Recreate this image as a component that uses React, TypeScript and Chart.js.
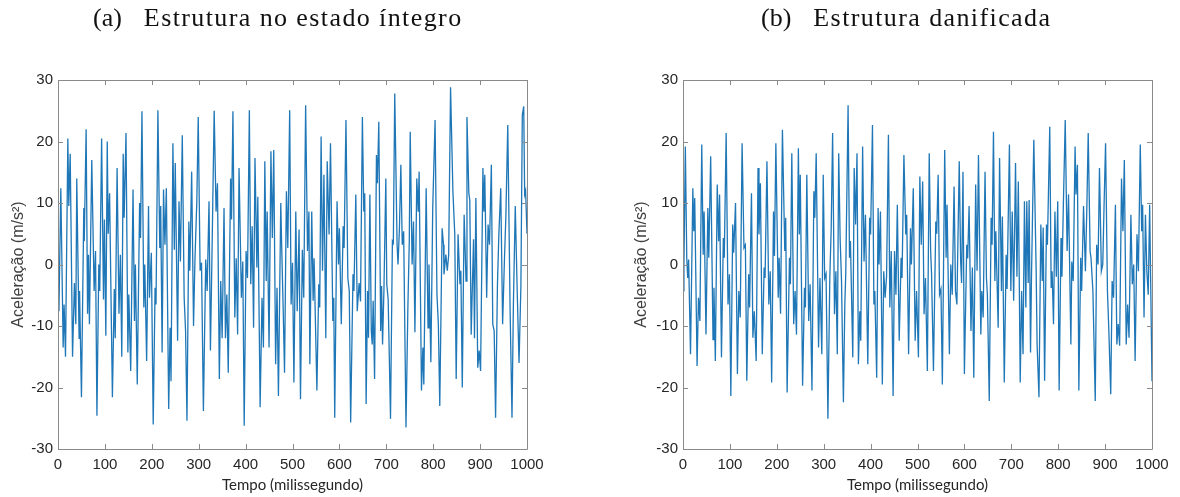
import React, { useEffect, useRef } from "react";
import { Chart, registerables } from "chart.js";

Chart.register(...registerables);

// ---- Data: (a) Estrutura no estado íntegro ----
const timeA = [
  0, 2, 6, 11, 13, 16, 21, 23, 26, 31, 35, 38, 40, 45, 46, 50, 55, 56, 60, 63, 65, 67, 72, 77, 80, 83, 87, 89, 93, 97,
  99, 102, 105, 107, 110, 116, 120, 122, 126, 130, 133, 136, 139, 141, 145, 149, 151, 155, 160, 163, 165, 169, 174, 176,
  179, 183, 185, 189, 193, 195, 199, 203, 207, 209, 213, 217, 219, 222, 225, 228, 231, 236, 239, 241, 245, 248, 250, 255,
  258, 261, 265, 269, 272, 275, 279, 281, 285, 289, 292, 296, 299, 303, 306, 310, 315, 318, 322, 325, 328, 333, 337, 340,
  344, 347, 350, 354, 357, 360, 363, 368, 370, 373, 377, 380, 383, 386, 391, 394, 397, 401, 404, 408, 411, 414, 417, 420,
  424, 426, 431, 435, 438, 441, 444, 446, 450, 454, 457, 460, 464, 467, 470, 475, 477, 480, 483, 487, 490, 494, 497, 500,
  503, 507, 510, 514, 517, 521, 524, 528, 532, 535, 537, 541, 544, 546, 552, 556, 558, 561, 564, 567, 571, 574, 578, 581,
  586, 588, 590, 595, 598, 600, 604, 608, 610, 614, 618, 621, 624, 629, 631, 635, 638, 642, 645, 649, 652, 654, 657, 660,
  662, 665, 668, 670, 672, 675, 679, 681, 684, 688, 690, 692, 695, 699, 701, 704, 709, 713, 715, 718, 723, 725, 728, 731,
  734, 737, 742, 746, 749, 751, 755, 758, 761, 765, 768, 770, 775, 778, 780, 785, 789, 791, 795, 799, 804, 808, 811, 814,
  819, 822, 823, 827, 830, 833, 837, 842, 846, 849, 853, 857, 859, 862, 866, 870, 872, 876, 878, 881, 886, 888, 891, 895,
  898, 901, 906, 908, 910, 914, 917, 920, 924, 927, 930, 933, 937, 940, 944, 948, 952, 955, 959, 964, 968, 971, 975, 979,
  983, 987, 990, 993, 995, 997, 1000,
];
const accelA = [
  -2, -7.6, 12.4, -13.5, -6.5, -15, 20.5, 9.5, 18, -15, -3, -9.7, 14, -12, -4.3, -21.6, 9.2, 3.8, 22, -8, 1.6, -9.7, 17,
  -4.3, 2.2, -24.6, 0, -4.3, 20.5, -5.7, 7.3, -11.6, 20, 5, 11.6, -21.6, -4, -12, 15.7, -8, 1.6, -15, 18, 7.6, 21.4, -14.3,
  -4.9, -17.3, 12.2, -9.2, 0, -19.5, 10, 4.3, 24.9, -7, 0, -15.7, 9.5, -5.4, 1.9, -26, -3.8, -6.5, 25.1, 2.7, 9.5, -14.3,
  12.2, 3.2, 12.4, -23.5, -10.3, -19, 19.7, 2.4, 16.5, -12.4, 10.3, 0.5, 21, -5.4, -10.8, -25.4, 7, -1, 15.1, -10, 0.8,
  10.3, 24, -1, 0.3, -23.8, 0.8, -4.3, 10.3, -14, 0, 25, 8.6, 13.2, -18.6, -2.7, -12, 9.2, -12, -4.9, -17.6, 14, 7.3, 24.9,
  -8.6, 1, -11.4, 15.7, -5.4, 0.5, -26.2, 2.2, -2.2, 25.1, -3.2, 6.2, -10.3, 17.3, -0.5, 11, -23.2, -5.4, -13.5, 16.8, -2.7,
  8.6, -13.5, 18.4, 4.3, 18.6, -16.2, -3.8, -21.4, 10, 2.7, -6.8, -17.6, 11.9, 2.7, 25.1, -6.5, 0.3, -19.2, 8.6, -7.6, 5.7,
  -21.9, 2.4, -5.4, 25.9, 2.2, 8.6, -16.2, 8.6, -5.9, 1, -20.5, -3.2, -7, 20.8, -1, 14.6, -12, 16.8, 4.9, 19.7, -9.2, -5.4,
  -24.9, 10.3, 0, 5.9, -9.7, 6.2, 2.7, 23.5, -2.2, -4.3, -25.7, -1.6, -4.3, 11.4, -7.6, -3, -6, 24, 8.6, 11.6, -22.7, -4.3,
  -11.9, 11.4, -10.8, -13, -5.9, -18.6, 17.8, 13.2, 23.2, -10.8, -3.5, -13, -4, 14, -3.2, -5.7, -25.1, 3.8, 3.5, 27.8, 3.2,
  0, 5.9, 16.2, 3.2, 5.4, -26.5, -7, 3.8, 21.6, 0, 7, -11, 14, 8.6, 15.1, -20.5, -13.5, -19.5, 12.4, -10.3, 0, -15.9, 9.2,
  23.5, -4.9, -9.7, -23, 5.9, 3.2, -1.6, 1.6, -1, 1.5, 28.8, 11.9, 4.9, -18.6, 4.9, -3.2, -1, -20, 8.1, -2.7, 24, 11.6, 10.5,
  -11.4, 4.1, -12, 10.8, -16.8, -14, -17.3, 15.7, 8.6, 14.6, -5.4, 6.5, 3.2, 16.2, -9.7, -10.8, -24.9, -3.2, 4.9, 12.4,
  -9.7, 1, 8, 22.7, -7.6, -24.9, -6.5, 9.5, -4, -16, -3.5, 24.3, 25.7, 11.4, 12, 5,
];

// ---- Data: (b) Estrutura danificada ----
const timeB = [
  0, 2, 5, 8, 10, 12, 16, 21, 23, 25, 30, 33, 36, 40, 43, 45, 49, 53, 55, 59, 64, 66, 69, 73, 76, 78, 82, 86, 88, 92, 96,
  99, 102, 106, 108, 112, 116, 119, 122, 126, 130, 133, 136, 140, 142, 146, 149, 152, 156, 160, 162, 165, 169, 173, 175,
  179, 183, 186, 189, 193, 195, 198, 203, 205, 208, 212, 217, 219, 222, 227, 229, 232, 236, 239, 242, 246, 248, 250, 255,
  259, 261, 264, 268, 271, 275, 279, 281, 284, 289, 292, 296, 299, 302, 305, 309, 313, 316, 319, 323, 326, 329, 332, 335,
  338, 342, 345, 347, 352, 355, 357, 362, 365, 368, 371, 374, 377, 379, 383, 386, 389, 394, 398, 400, 404, 407, 409, 413,
  416, 418, 421, 425, 428, 431, 434, 438, 441, 444, 448, 451, 454, 457, 461, 465, 467, 471, 475, 477, 481, 485, 487, 491,
  495, 498, 502, 505, 508, 511, 514, 517, 521, 525, 528, 530, 534, 539, 541, 544, 547, 550, 553, 558, 561, 563, 568, 571,
  574, 578, 581, 584, 589, 592, 594, 597, 600, 605, 607, 610, 614, 617, 620, 624, 627, 630, 635, 637, 640, 644, 647, 649,
  653, 657, 659, 662, 665, 667, 672, 675, 679, 681, 685, 689, 691, 696, 699, 702, 705, 709, 712, 715, 719, 722, 725, 728,
  731, 733, 736, 738, 741, 743, 748, 753, 755, 759, 763, 766, 768, 771, 775, 777, 782, 785, 787, 790, 793, 796, 799, 802,
  806, 808, 811, 815, 819, 822, 827, 829, 832, 836, 838, 841, 844, 848, 850, 854, 858, 861, 864, 868, 870, 874, 879, 882,
  885, 888, 892, 895, 898, 901, 905, 908, 912, 915, 918, 922, 925, 928, 931, 935, 938, 941, 945, 948, 951, 955, 958, 961,
  964, 968, 971, 975, 978, 980, 983, 986, 989, 992, 995, 1000,
];
const accelB = [
  -4.3, 0, 19.2, 1.1, -2.2, 0.8, -14.6, 12.4, 5.4, 10.8, -16.5, -5.4, -9.2, 19.5, 1.6, 8.6, -11.4, 9.2, 1.1, 17.6, -12.2,
  -3.8, -15.7, 13, 3.8, 11.4, -15.1, 4.3, 1.1, 21.4, -6.5, -1.6, -21.4, 6.5, 1.9, 10, -17.8, -4.3, -8.6, 19.7, 2.7, 3.2,
  -18.9, -1.6, -7, 11.6, -11.9, -7.6, -15.7, 15.7, 4.9, 13.2, -14.6, -0.5, -2.2, 16.8, -6.5, -1.1, -19.2, 8.6, 1.4, 19.7,
  -5.4, 1.1, -8, 21.9, 2.2, 7.6, -20.8, 1.1, -3.2, 18.1, -9.7, -4.3, -11.4, 18.9, 4.9, 14.6, -19.7, -3.8, -7, 14.6, -9.2,
  -3.2, -20.5, 11.9, 7.6, 18.1, -13.5, -2.2, -14.6, 14.6, -2.2, -1.5, -25.1, -2.2, 5.9, 21.4, -8.1, -1.1, -14.6, 18.1, 4.3,
  -2.7, -22.4, -6.5, -1.6, 25.9, 1.1, 3.8, -15.1, 15.7, 6.5, 18.1, -16.2, -7.6, -12.4, 19.2, 0.5, 8.1, -16.2, 7.6, 4.9, 22.7,
  -6.5, -4.3, -18.4, 9.2, 0, 8.6, -19.5, -1.1, -5.4, -2, 21.1, -7, 2.2, -21.4, 2.2, -4.9, 9.7, -12.4, 1.1, -2.2, 17.8, 4.9,
  8.1, -14.6, 5.9, 0, 12.4, -12.4, -4.3, -15.1, 14.3, 3.2, 13.5, -8.1, -2.2, -17.3, 18.1, 2.2, -1.6, -17.3, 7, 5, 14.6,
  -4.9, -4, -19.5, 18.6, 1.1, 9.7, -14.6, 0, -4.9, 12.7, -4.3, -6.5, 16.8, 0.5, -3, 15.1, -17.8, 3.2, 1, 9.5, -10.8, -0.5,
  -18.4, 13, -1, 17.8, -11.4, -4.3, -8.6, 15.1, -2.2, -4.9, -22.2, 7.6, 3.2, 21.6, -2.7, 5.4, -10.3, 17.3, -4.3, 7.8, -19.2,
  1.6, -4, 19.5, -4.3, 8.6, -5.9, 16.5, -2, 13.5, -19.2, -4.3, -14.6, 10.3, -7, 10.3, -3, 10.5, -14.3, -2.2, 20.3, -1.1, -13,
  -21.6, 6.5, -2.7, 6, -18.9, 6.5, 3.2, 22.4, -3.8, -1.1, -9.7, 8.6, -2, 10.3, -20.5, 4.3, -2, 9.7, 23.5, 2.2, 11.4, -13,
  0.5, -2.7, 19.2, 11.4, 16.2, -20.5, 1.1, -4.3, 9.5, -1.1, 9, 21.4, 2.2, 1, -4.3, -22.2, 3.2, 0, 15.7, -1.1, 0, 10.3, 19.7,
  -4.3, -10.8, -21.1, -2.7, -5.4, 9.7, -13, -9.7, -13.2, 14, 5.4, 17, -13, -6.5, -11.9, 8.1, -3.2, 0, -15.7, 4.9, -1.1,
  19.5, 5.4, 9.7, -8.6, 8.1, -1.1, -4.9, 9.7, -19,
];

const xLabel = "Tempo (milissegundo)";
const yLabel = "Aceleração (m/s²)";
const titleA = "Estrutura no estado íntegro";
const titleB = "Estrutura danificada";

const LINE_COLOR = "#1f77b7";
const TEXT_COLOR = "#262626";
const BOX_COLOR = "#8a8a8a";

const boxPlugin = {
  id: "matlabBox",
  afterDraw(chart: any) {
    const { ctx, chartArea: a, scales } = chart;
    const tl = 5;
    ctx.save();
    ctx.strokeStyle = BOX_COLOR;
    ctx.lineWidth = 1;
    ctx.beginPath();
    ctx.rect(Math.round(a.left) + 0.5, Math.round(a.top) + 0.5, Math.round(a.right - a.left), Math.round(a.bottom - a.top));
    ctx.stroke();
    ctx.beginPath();
    scales.x.ticks.forEach((t: any) => {
      const px = Math.round(scales.x.getPixelForValue(t.value)) + 0.5;
      ctx.moveTo(px, a.bottom);
      ctx.lineTo(px, a.bottom - tl);
      ctx.moveTo(px, a.top);
      ctx.lineTo(px, a.top + tl);
    });
    scales.y.ticks.forEach((t: any) => {
      const py = Math.round(scales.y.getPixelForValue(t.value)) + 0.5;
      ctx.moveTo(a.left, py);
      ctx.lineTo(a.left + tl, py);
      ctx.moveTo(a.right, py);
      ctx.lineTo(a.right - tl, py);
    });
    ctx.stroke();
    ctx.restore();
  },
};

function Panel(props: {
  times: number[];
  values: number[];
  padLeft: number;
  padRight: number;
  yTitlePad: number;
}) {
  const ref = useRef<HTMLCanvasElement>(null);
  useEffect(() => {
    if (!ref.current) return;
    const pts = props.times.map((t, i) => ({ x: t, y: props.values[i] }));
    const chart = new Chart(ref.current, {
      type: "line",
      data: {
        datasets: [
          {
            data: pts,
            borderColor: LINE_COLOR,
            borderWidth: 1.3,
            pointRadius: 0,
            tension: 0,
            fill: false,
          },
        ],
      },
      options: {
        animation: false,
        responsive: false,
        maintainAspectRatio: false,
        events: [],
        layout: { padding: { left: props.padLeft, right: props.padRight, top: 80, bottom: 0 } },
        plugins: { legend: { display: false }, tooltip: { enabled: false }, title: { display: false } },
        scales: {
          x: {
            type: "linear",
            min: 0,
            max: 1000,
            afterFit: (s: any) => {
              s.height = 48;
            },
            grid: { display: false, drawTicks: false },
            border: { display: false },
            ticks: {
              stepSize: 100,
              autoSkip: false,
              maxRotation: 0,
              padding: 7,
              color: TEXT_COLOR,
              callback: (v: any) => String(v),
              font: { family: "'Liberation Sans', Arial, sans-serif", size: 15 },
            },
            title: {
              display: true,
              text: xLabel,
              color: TEXT_COLOR,
              padding: { top: 0, bottom: 3 },
              font: { family: "Lato, 'Liberation Sans', sans-serif", size: 15 },
            },
          },
          y: {
            min: -30,
            max: 30,
            afterFit: (s: any) => {
              s.width = 58;
            },
            grid: { display: false, drawTicks: false },
            border: { display: false },
            ticks: {
              stepSize: 10,
              padding: 5,
              color: TEXT_COLOR,
              callback: (v: any) => String(v),
              font: { family: "'Liberation Sans', Arial, sans-serif", size: 15 },
            },
            title: {
              display: true,
              text: yLabel,
              color: "#404040",
              padding: { top: props.yTitlePad, bottom: 0 },
              font: { family: "'Liberation Sans', Arial, sans-serif", size: 16 },
            },
          },
        },
      },
      plugins: [boxPlugin],
    });
    return () => chart.destroy();
  }, []);
  return <canvas ref={ref} width={590} height={497} style={{ display: "block", width: 590, height: 497 }} />;
}

const titleStyle: React.CSSProperties = {
  position: "absolute",
  top: 3,
  fontFamily: "'Liberation Serif', 'Times New Roman', serif",
  fontSize: 26,
  lineHeight: "30px",
  color: "#111",
  whiteSpace: "nowrap",
};

export default function App() {
  return (
    <div style={{ position: "absolute", left: 0, top: 0, width: 1180, height: 497, background: "#fff", overflow: "hidden" }}>
      <div style={{ position: "absolute", left: 0, top: 0 }}>
        <Panel times={timeA} values={accelA} padLeft={0} padRight={63} yTitlePad={9} />
      </div>
      <div style={{ position: "absolute", left: 590, top: 0 }}>
        <Panel times={timeB} values={accelB} padLeft={35} padRight={28} yTitlePad={7} />
      </div>
      <div style={{ ...titleStyle, left: 93 }}>
        <span>(a)</span>
        <span style={{ marginLeft: 22, letterSpacing: 1.4 }}>{titleA}</span>
      </div>
      <div style={{ ...titleStyle, left: 761 }}>
        <span>(b)</span>
        <span style={{ marginLeft: 22, letterSpacing: 1.4 }}>{titleB}</span>
      </div>
    </div>
  );
}
